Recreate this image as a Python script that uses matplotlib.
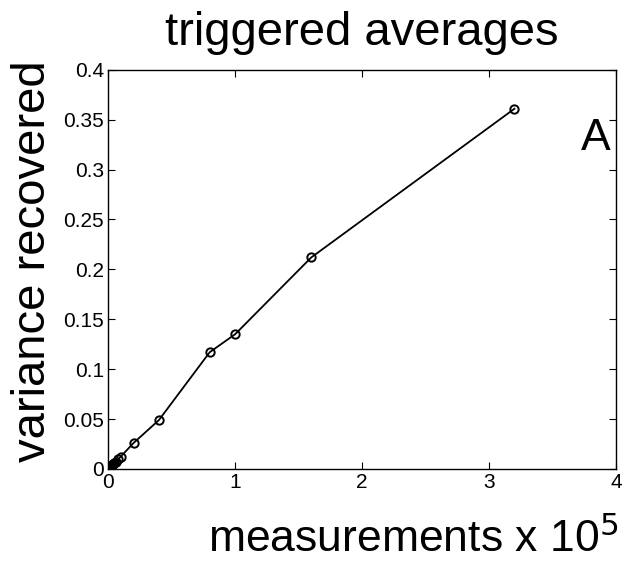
import numpy as np
import matplotlib.pyplot as plt

plt.rcParams['font.family'] = ['Liberation Sans', 'DejaVu Sans']

# measurements (x 10^5) and variance recovered
measurements = [0.0025, 0.005, 0.01, 0.0125, 0.015, 0.02, 0.025, 0.03, 0.04, 0.05, 0.06, 0.08, 0.1,
                0.2, 0.4, 0.8, 1.0, 1.6, 3.2]
variance = [0.0003, 0.0006, 0.0012, 0.0015, 0.0018, 0.0024, 0.003, 0.0036, 0.0048, 0.006, 0.0074,
            0.0098, 0.0125, 0.026, 0.049, 0.117, 0.135, 0.212, 0.361]

xticks = [0, 1, 2, 3, 4]
yticks = [0, 0.05, 0.1, 0.15, 0.2, 0.25, 0.3, 0.35, 0.4]
ytick_labels = ['0', '0.05', '0.1', '0.15', '0.2', '0.25', '0.3', '0.35', '0.4']

fig = plt.figure(figsize=(6.36, 5.63), dpi=100)
ax = fig.add_axes([0.17, 0.167, 0.7986, 0.709])

ax.plot(measurements, variance, color='black', lw=1.3, marker='o', markersize=6,
        markerfacecolor='none', markeredgecolor='black', markeredgewidth=1.4)

ax.set_xlim(0, 4)
ax.set_ylim(0, 0.4)
ax.set_xticks(xticks)
ax.set_xticklabels([str(t) for t in xticks])
ax.set_yticks(yticks)
ax.set_yticklabels(ytick_labels)
ax.tick_params(direction='in', length=5, labelsize=15, top=True, right=True, pad=3)
for s in ax.spines.values():
    s.set_linewidth(1.0)

ax.set_title('triggered averages', fontsize=34, pad=18)
ax.set_ylabel('variance recovered', fontsize=34, labelpad=6, y=0.52)
ax.set_xlabel('measurements x 10$^5$', fontsize=32, labelpad=18, x=0.6)
ax.text(0.99, 0.88, 'A', transform=ax.transAxes, fontsize=32, ha='right', va='top')

fig.savefig('out.png', dpi=100)
